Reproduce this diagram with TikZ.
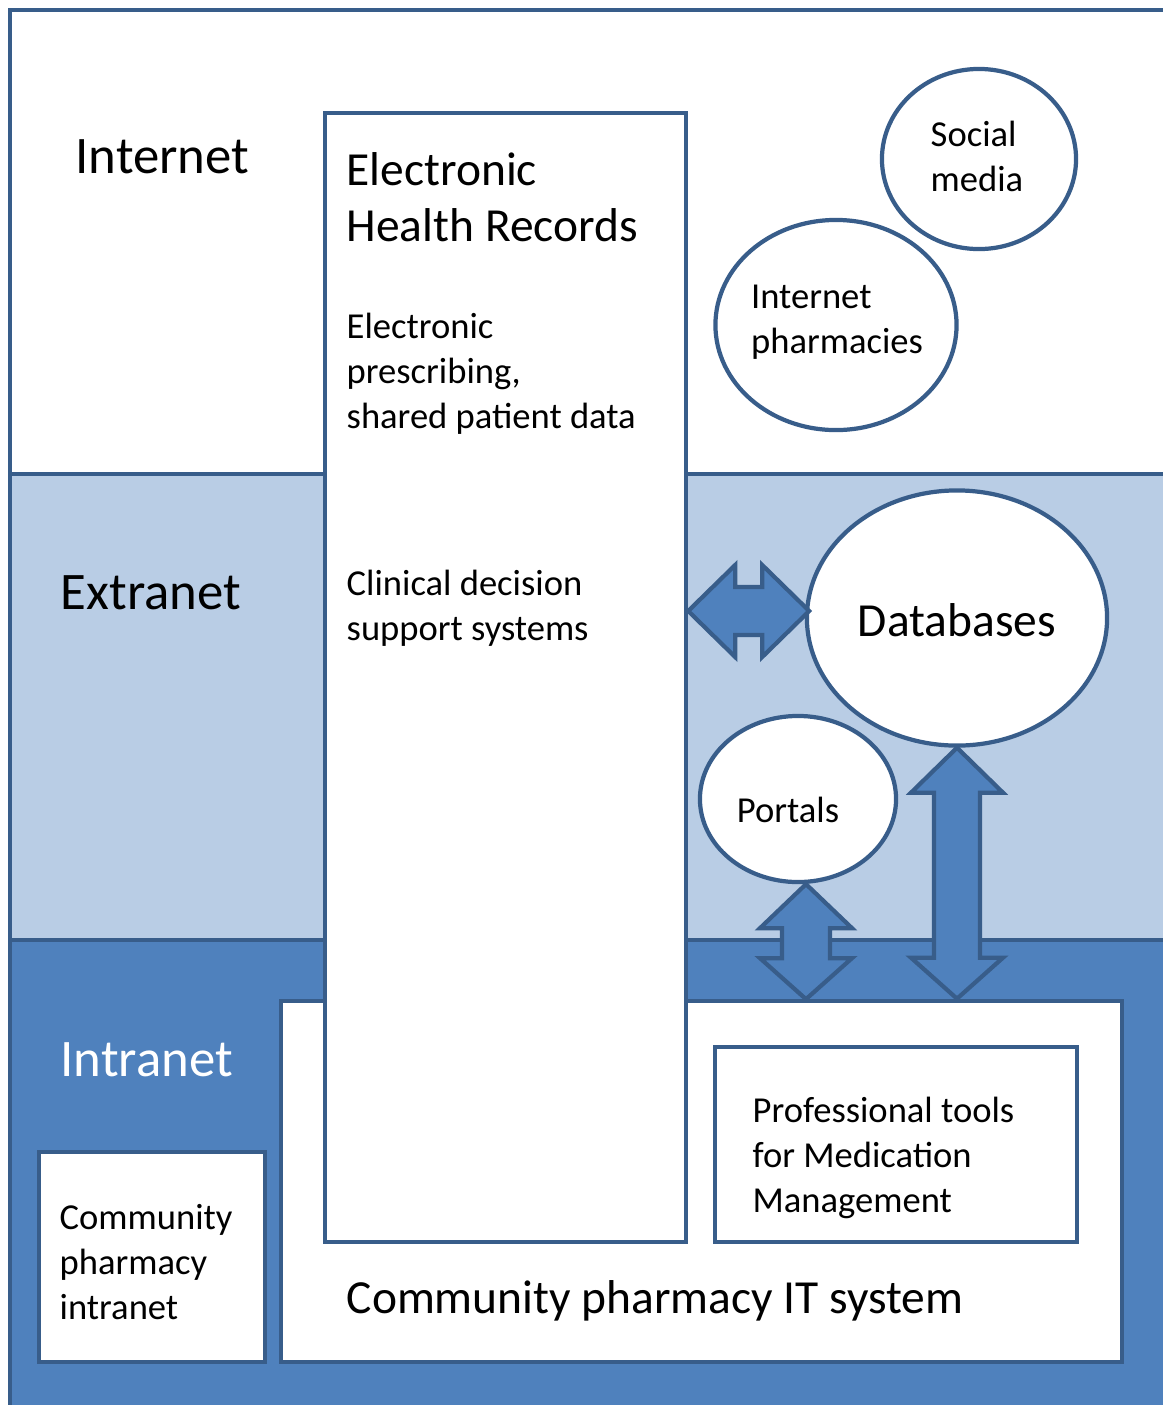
\documentclass[tikz,border=0pt]{standalone}
\usepackage{fontspec}
\setmainfont{Carlito}
\usetikzlibrary{calc,shapes.geometric}
\definecolor{edgeblue}{HTML}{385D8A}
\definecolor{lightblue}{HTML}{B9CDE5}
\definecolor{midblue}{HTML}{4F81BD}
\begin{document}
\begin{tikzpicture}[x=0.01cm,y=-0.01cm]
\tikzstyle{every node}+=[inner sep=0pt]
\tikzstyle{band}=[draw=edgeblue,line width=1.2pt]
\tikzstyle{box}=[rectangle,draw=edgeblue,fill=white,line width=1.2pt]
\tikzstyle{bubble}=[ellipse,draw=edgeblue,fill=white,line width=1.2pt]
\tikzstyle{blockarrow}=[draw=edgeblue,fill=midblue,line width=1.2pt,line join=miter]
\tikzstyle{small}=[font=\fontsize{10.4}{12.8}\selectfont,align=left]
\tikzstyle{zone}=[font=\fontsize{15}{18}\selectfont,anchor=west]
\tikzstyle{title}=[font=\fontsize{13.5}{15.9}\selectfont,align=left]
\useasboundingbox (0,0) rectangle (1162,1405);
% zones
\draw [band,fill=white] (10,10) rectangle (1190,474);
\draw [band,fill=lightblue] (10,474) rectangle (1190,940);
\draw [band,fill=midblue] (10,940) rectangle (1190,1430);
\node [zone] (inet) at (75,157) {Internet};
\node [zone] (xnet) at (60,593) {Extranet};
\node [zone,text=white] (inet2) at (60,1060) {Intranet};
% boxes
\node [box,minimum width=84.1mm,minimum height=36.1mm] (itsys) at (701.5,1181.5) {};
\node [box,minimum width=22.6mm,minimum height=21mm] (cpi) at (152,1257) {};
\node [box,minimum width=36.1mm,minimum height=112.9mm] (ehr) at (505.5,677.5) {};
\node [box,minimum width=36.2mm,minimum height=19.5mm] (tools) at (896,1144.5) {};
\node [title,anchor=west] (itsyslabel) at (346,1301) {Community pharmacy IT system};
\node [small,anchor=west] (cpilabel) at (59,1262) {Community\\pharmacy\\intranet};
\node [title,anchor=west] (ehrlabel) at (346,197) {Electronic\\Health Records};
\node [small,anchor=west] (presc) at (346,374) {Electronic\\prescribing,\\shared patient data};
\node [small,anchor=west] (cdss) at (346,608) {Clinical decision\\support systems};
\node [small,anchor=west] (toolslabel) at (752,1158) {Professional tools\\for Medication\\Management};
% bubbles
\node [bubble,minimum width=19.4mm,minimum height=18mm] (social) at (979,159) {};
\node [small] (sociallabel) at (977,156) {Social\\media};
\node [bubble,minimum width=24.1mm,minimum height=21mm] (pharm) at (836,325) {};
\node [small] (pharmlabel) at (837,322) {Internet\\pharmacies};
\node [bubble,minimum width=30mm,minimum height=25.5mm] (db) at (957,618) {};
\node [title] (dblabel) at (957,620) {Databases};
\node [bubble,minimum width=19.6mm,minimum height=16.6mm] (portals) at (798,799) {};
\node [small] (portalslabel) at (788,810) {Portals};
% arrows
\draw [blockarrow] ($(ehr.east |- db.west)+(0,-7)$) -- ++(47,-46) -- ++(0,22) -- ++(27,0) -- ++(0,-22) -- ++(47,46) -- ++(-47,46) -- ++(0,-22) -- ++(-27,0) -- ++(0,22) -- cycle;
\draw [blockarrow] ($(portals.south)+(8,0)$) -- ++(46,44) -- ++(-22,0) -- ++(0,30) -- ++(22,0) -- ++(-46,41) -- ++(-46,-41) -- ++(22,0) -- ++(0,-30) -- ++(-22,0) -- cycle;
\draw [blockarrow] (db.south) -- ++(46,45) -- ++(-23,0) -- ++(0,165) -- ++(23,0) -- ++(-46,41) -- ++(-46,-41) -- ++(23,0) -- ++(0,-165) -- ++(-23,0) -- cycle;
\end{tikzpicture}
\end{document}
